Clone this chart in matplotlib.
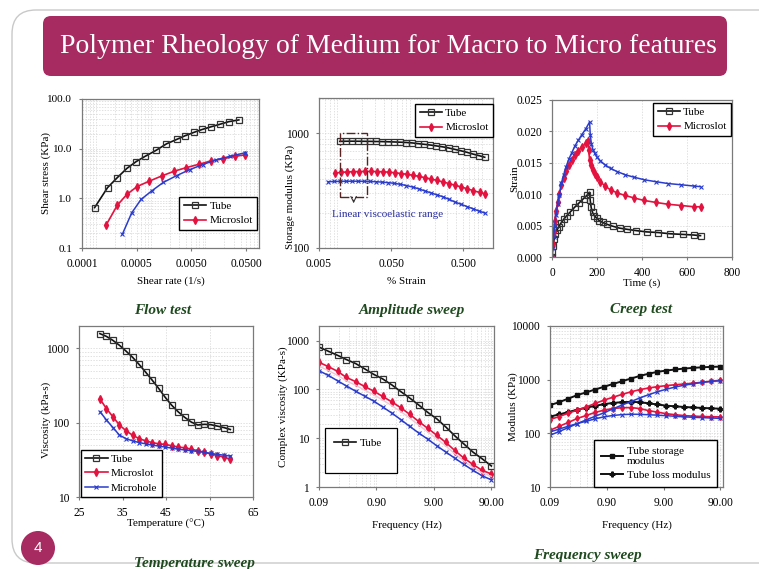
import matplotlib
matplotlib.use("Agg")
import matplotlib.pyplot as plt
from matplotlib.patches import FancyBboxPatch, Circle, Rectangle

plt.rcParams['font.family'] = ['Liberation Serif', 'DejaVu Serif']

W, H = 759, 569

# ---- flow test
flow_rate_tube = [8.5e-5, 1.47e-4, 2.2e-4, 3.3e-4, 4.9e-4, 7.1e-4, 1.12e-3, 1.75e-3,
                  2.67e-3, 3.78e-3, 5.5e-3, 7.9e-3, 1.16e-2, 1.64e-2, 2.42e-2, 3.68e-2]
flow_stress_tube = [0.65, 1.65, 2.6, 4.0, 5.5, 7.0, 9.2, 12.5, 15.3, 18.1, 21.2, 24.4,
                    27.7, 30.9, 35.0, 37.9]
flow_rate_slot = [1.38e-4, 2.2e-4, 3.3e-4, 5.1e-4, 8.5e-4, 1.42e-3, 2.39e-3, 4.05e-3,
                  6.9e-3, 1.16e-2, 1.88e-2, 3.07e-2, 4.86e-2]
flow_stress_slot = [0.29, 0.72, 1.2, 1.73, 2.22, 2.81, 3.5, 4.16, 4.86, 5.7, 6.25, 6.98, 7.55]
flow_rate_hole = [2.74e-4, 4.05e-4, 6.0e-4, 9.4e-4, 1.53e-3, 2.67e-3, 4.67e-3, 8.1e-3,
                  1.42e-2, 2.49e-2, 4.86e-2]
flow_stress_hole = [0.19, 0.51, 0.95, 1.41, 2.09, 2.86, 3.79, 4.79, 5.97, 6.98, 8.3]

# ---- amplitude sweep
amp_strain_tube = [0.0097, 0.0118, 0.0143, 0.0174, 0.021, 0.0255, 0.031, 0.0375, 0.0455,
                   0.055, 0.067, 0.081, 0.098, 0.119, 0.144, 0.175, 0.212, 0.257, 0.312,
                   0.378, 0.458, 0.555, 0.673, 0.816, 0.99]
amp_g_tube = [850, 852, 853, 852, 851, 850, 848, 846, 843, 840, 836, 831, 824, 812, 801,
              790, 776, 762, 745, 725, 705, 684, 660, 640, 618]
amp_strain_slot = [0.0083, 0.01, 0.0121, 0.0147, 0.0178, 0.0216, 0.0262, 0.0318, 0.0385,
                   0.0467, 0.0566, 0.0686, 0.0832, 0.101, 0.122, 0.148, 0.18, 0.218, 0.264,
                   0.32, 0.388, 0.47, 0.57, 0.69, 0.84, 0.99]
amp_g_slot = [450, 456, 460, 463, 464, 465, 465, 464, 462, 458, 453, 446, 439, 430, 421,
              410, 399, 388, 376, 364, 352, 340, 328, 316, 305, 298]
amp_strain_hole = [0.0067, 0.0081, 0.0098, 0.0119, 0.0144, 0.0175, 0.0212, 0.0257, 0.0312,
                   0.0378, 0.0458, 0.0555, 0.0673, 0.0816, 0.099, 0.12, 0.145, 0.176, 0.213,
                   0.259, 0.314, 0.38, 0.461, 0.559, 0.678, 0.822, 0.99]
amp_g_hole = [378, 380, 381, 382, 382, 382, 381, 380, 378, 375, 371, 366, 359, 350, 340,
              328, 315, 303, 291, 280, 266, 252, 241, 230, 220, 210, 202]

# ---- creep test
creep_t_tube = [0, 2, 5, 9, 15, 22, 30, 40, 52, 66, 82, 100, 120, 140, 155, 167,
                170, 174, 180, 188, 198, 210, 225, 245, 270, 300, 335, 375, 420, 470,
                525, 580, 630, 660]
creep_tube = [0, 0.0008, 0.0017, 0.0028, 0.0037, 0.0043, 0.0048, 0.0054, 0.0060, 0.0066,
              0.0072, 0.0079, 0.0086, 0.0093, 0.0098, 0.0103,
              0.0090, 0.0079, 0.0071, 0.0066, 0.0062, 0.0058, 0.0055, 0.0052, 0.0049,
              0.0046, 0.0044, 0.0042, 0.0040, 0.0039, 0.0037, 0.0036, 0.0035, 0.0034]
creep_t_slot = [0, 3, 7, 12, 18, 25, 33, 42, 52, 63, 75, 88, 102, 117, 133, 150, 160,
                163, 167, 172, 180, 190, 200, 215, 235, 260, 290, 325, 365, 410, 460,
                515, 575, 630, 660]
creep_slot = [0, 0.0020, 0.0040, 0.0058, 0.0073, 0.0088, 0.0101, 0.0114, 0.0126, 0.0137,
              0.0146, 0.0154, 0.0162, 0.0169, 0.0175, 0.0181, 0.0184,
              0.0170, 0.0155, 0.0146, 0.0139, 0.0132, 0.0127, 0.0120, 0.0113, 0.0107,
              0.0102, 0.0098, 0.0094, 0.0090, 0.0087, 0.0084, 0.0082, 0.0080, 0.0080]
creep_t_hole = [0, 3, 7, 12, 18, 25, 33, 42, 52, 63, 75, 88, 102, 117, 133, 150, 167,
                170, 175, 182, 190, 200, 215, 235, 260, 290, 325, 365, 410, 460, 515,
                575, 630, 660]
creep_hole = [0, 0.0015, 0.0032, 0.0050, 0.0067, 0.0084, 0.0099, 0.0118, 0.0131, 0.0144,
              0.0156, 0.0166, 0.0177, 0.0186, 0.0195, 0.0204, 0.0215,
              0.0195, 0.0180, 0.0171, 0.0165, 0.0159, 0.0153, 0.0147, 0.0141, 0.0136,
              0.0131, 0.0127, 0.0123, 0.0120, 0.0117, 0.0115, 0.0113, 0.0112]

# ---- temperature sweep
temp = [29.8, 31.3, 32.8, 34.3, 35.8, 37.3, 38.8, 40.3, 41.8, 43.3, 44.8, 46.3, 47.8,
        49.3, 50.8, 52.3, 53.8, 55.3, 56.8, 58.3, 59.8]
visc_tube = [1580, 1450, 1280, 1100, 920, 760, 610, 480, 375, 290, 220, 172, 140, 118,
             102, 93, 95, 94, 90, 86, 81]
visc_slot = [209, 155, 120, 93, 78, 68, 61, 57, 54, 52, 51, 49, 47, 46, 44, 42, 40, 38,
             36, 34.5, 32]
visc_hole = [141, 109, 86, 68, 61, 57, 54, 52, 50, 48.5, 47, 45.5, 44, 43, 42, 41, 40,
             38.5, 37.5, 36.5, 35.5]

# ---- frequency sweeps
freq = [0.09, 0.13, 0.19, 0.27, 0.39, 0.56, 0.8, 1.15, 1.65, 2.4, 3.4, 4.9, 7.0, 10.1,
        14.5, 20.8, 30, 43, 62, 90]
cvisc_tube = [740, 610, 500, 410, 340, 265, 205, 165, 125, 90, 67, 48, 34, 25, 17, 11.2,
              7.6, 5.2, 3.8, 2.7]
cvisc_slot = [360, 295, 235, 176, 145, 115, 93, 72, 56, 42, 31, 22, 16, 11.5, 8.2, 5.6,
              3.9, 2.9, 2.2, 1.85]
cvisc_pale = [300, 245, 195, 150, 122, 97, 78, 61, 47, 35, 26, 18.6, 13.5, 9.7, 6.9, 4.8,
              3.4, 2.5, 1.95, 1.65]
cvisc_hole = [242, 195, 150, 118, 92, 73, 58, 44, 33, 24, 17.5, 12.8, 9.6, 7.0, 5.2, 3.9,
              2.9, 2.2, 1.7, 1.4]

gs_tube = [335, 380, 445, 514, 580, 655, 736, 830, 930, 1050, 1170, 1290, 1400, 1480,
           1550, 1610, 1660, 1700, 1730, 1750]
gl_tube = [205, 225, 250, 275, 300, 325, 350, 368, 380, 386, 380, 362, 345, 328, 318,
           310, 303, 298, 292, 288]
gs_slot = [181, 205, 238, 270, 310, 360, 415, 470, 530, 594, 650, 700, 740, 775, 805,
           830, 860, 895, 935, 975]
gl_slot = [114, 135, 160, 189, 215, 245, 270, 290, 300, 302, 290, 265, 248, 232, 222,
           214, 209, 206, 204, 203]
gs_hole = [92, 108, 128, 152, 178, 208, 241, 285, 335, 390, 455, 525, 595, 665, 730,
           790, 840, 890, 930, 955]
gl_hole = [106, 120, 136, 152, 168, 186, 203, 215, 223, 227, 226, 222, 218, 213, 208,
           203, 199, 196, 193, 190]

BLACK = '#111111'
RED = '#e3123e'
BLUE = '#2a3ccc'
MAGENTA = '#a72a60'
GREEN = '#1f4a1f'

fig = plt.figure(figsize=(W / 100, H / 100), dpi=100)

# slide background in pixel units
bg = fig.add_axes([0, 0, 1, 1])
bg.set_xlim(0, W)
bg.set_ylim(H, 0)
bg.axis('off')
bg.add_patch(FancyBboxPatch((12, 10), 800, 553, boxstyle='round,pad=0,rounding_size=24',
                            fc='white', ec='#c9c9c9', lw=1.0))
bg.add_patch(FancyBboxPatch((43, 16), 684, 60, boxstyle='round,pad=0,rounding_size=8',
                            fc=MAGENTA, ec='none'))
bg.text(388, 46, 'Polymer Rheology of Medium for Macro to Micro features', color='white',
        fontsize=20, ha='center', va='center')
bg.add_patch(Circle((38, 548), 17, fc=MAGENTA, ec='none'))
bg.text(38, 548, '4', color='white', fontsize=11, ha='center', va='center',
        family='Liberation Sans')

for txt, x, y in [('Flow test', 163, 310), ('Amplitude sweep', 412, 310),
                  ('Creep test', 641, 309), ('Temperature sweep', 194, 563),
                  ('Frequency sweep', 587, 556)]:
    bg.text(x, y, txt, color=GREEN, fontsize=11, fontweight='bold', style='italic',
            ha='center', va='center')


def panel(l, r, t, b):
    return fig.add_axes([l / W, 1 - b / H, (r - l) / W, (b - t) / H])


def style(ax, xlab, ylab, xl, yl, logx=True, logy=True, ylab_y=0.5):
    if logx:
        ax.set_xscale('log')
    if logy:
        ax.set_yscale('log')
    for s in ax.spines.values():
        s.set_color('#7a7a7a')
        s.set_linewidth(0.9)
    ax.tick_params(which='major', labelsize=8.3, length=2.5, pad=4.5, color='#7a7a7a')
    ax.tick_params(which='minor', length=0)
    ax.grid(True, which='both', color='#d4d4d4', ls=(0, (2, 2)), lw=0.5)
    ax.set_axisbelow(True)
    ax.set_xlabel(xlab, fontsize=8)
    ax.set_ylabel(ylab, fontsize=8)
    ax.xaxis.label.set_va('center')
    ax.yaxis.label.set_va('center')
    ax.xaxis.set_label_coords(0.5, xl)
    ax.yaxis.set_label_coords(yl, ylab_y)


def ticks(ax, xt=None, xlbl=None, yt=None, ylbl=None):
    if xt is not None:
        ax.set_xticks(xt)
        ax.set_xticklabels(xlbl)
        ax.xaxis.set_minor_formatter(plt.NullFormatter())
    if yt is not None:
        ax.set_yticks(yt)
        ax.set_yticklabels(ylbl)
        ax.yaxis.set_minor_formatter(plt.NullFormatter())


tube_kw = dict(color=BLACK, marker='s', mfc='none', mec='#333333', ms=5, mew=0.9, lw=1.2)
slot_kw = dict(color=RED, marker='d', ms=3.8, lw=1.2)
hole_kw = dict(color=BLUE, marker='x', ms=3, mew=0.8, lw=1.1)
leg_kw = dict(fontsize=8, fancybox=False, edgecolor='black', framealpha=1,
              handlelength=2.0, borderaxespad=0, handletextpad=0.3, labelspacing=0.4)

# flow test
ax1 = panel(82, 259, 99, 248)
style(ax1, 'Shear rate (1/s)', 'Shear stress (KPa)', -0.226, -0.205)
ax1.plot(flow_rate_tube, flow_stress_tube, label='Tube', **tube_kw)
ax1.plot(flow_rate_slot, flow_stress_slot, label='Microslot', **slot_kw)
ax1.plot(flow_rate_hole, flow_stress_hole, **hole_kw)
ax1.set_xlim(5e-5, 0.086)
ax1.set_ylim(0.1, 100)
ticks(ax1, [5e-5, 5e-4, 5e-3, 5e-2], ['0.0001', '0.0005', '0.0050', '0.0500'],
      [0.1, 1, 10, 100], ['0.1', '1.0', '10.0', '100.0'])
ax1.tick_params(axis='y', labelsize=8)
ax1.legend(loc='upper right', bbox_to_anchor=(0.989, 0.342), **leg_kw)

# amplitude sweep
ax2 = panel(319, 493, 98, 248)
style(ax2, '% Strain', 'Storage modulus (KPa)', -0.225, -0.167, ylab_y=0.34)
ax2.plot(amp_strain_tube, amp_g_tube, label='Tube', **tube_kw)
ax2.plot(amp_strain_slot, amp_g_slot, label='Microslot', **slot_kw)
ax2.plot(amp_strain_hole, amp_g_hole, **hole_kw)
ax2.set_xlim(0.005, 1.29)
ax2.set_ylim(100, 2030)
ticks(ax2, [0.005, 0.05, 0.5], ['0.005', '0.050', '0.500'], [100, 1000], ['100', '1000'])
ax2.add_patch(Rectangle((0.0098, 279), 0.0232 - 0.0098, 1000 - 279, fill=False,
                        ls='-.', ec='#5a2323', lw=1.0, zorder=5))
ax2.annotate('', xy=(0.0151, 232), xytext=(0.0151, 276),
             arrowprops=dict(arrowstyle='->', color='#333333', lw=0.8))
ax2.text(0.0076, 195, 'Linear viscoelastic range', color='#2b2f9e', fontsize=8,
         ha='left', va='center')
ax2.legend(loc='upper right', bbox_to_anchor=(1.0, 0.96), **leg_kw)

# creep test
ax3 = panel(552, 732, 100, 257)
style(ax3, 'Time (s)', 'Strain', -0.17, -0.206, logx=False, logy=False)
ax3.grid(False, which='minor')
ax3.plot(creep_t_tube, creep_tube, label='Tube', **tube_kw)
ax3.plot(creep_t_slot, creep_slot, label='Microslot', **slot_kw)
ax3.plot(creep_t_hole, creep_hole, **hole_kw)
ax3.set_xlim(0, 800)
ax3.set_ylim(0, 0.025)
ax3.set_xticks([0, 200, 400, 600, 800])
ax3.set_yticks([0, 0.005, 0.01, 0.015, 0.02, 0.025])
ax3.set_yticklabels(['0.000', '0.005', '0.010', '0.015', '0.020', '0.025'])
ax3.legend(loc='upper right', bbox_to_anchor=(0.994, 0.981), **leg_kw)

# temperature sweep
ax4 = panel(79, 253, 326, 497)
style(ax4, 'Temperature (°C)', 'Viscosity (kPa-s)', -0.16, -0.186, logx=False,
      ylab_y=0.45)
ax4.plot(temp, visc_tube, label='Tube', **tube_kw)
ax4.plot(temp, visc_slot, label='Microslot', **slot_kw)
ax4.plot(temp, visc_hole, label='Microhole', **hole_kw)
ax4.set_xlim(25, 65)
ax4.set_ylim(10, 2000)
ax4.set_xticks([25, 35, 45, 55, 65])
ticks(ax4, yt=[10, 100, 1000], ylbl=['10', '100', '1000'])
ax4.legend(loc='lower left', bbox_to_anchor=(0.011, 0.0), **leg_kw)

# complex viscosity
ax5 = panel(319, 494, 326, 487)
style(ax5, 'Frequency (Hz)', 'Complex viscosity (KPa-s)', -0.236, -0.206)
ax5.plot(freq, cvisc_tube, label='Tube', **tube_kw)
ax5.plot(freq, cvisc_slot, **slot_kw)
ax5.plot(freq, cvisc_pale, color='#f2c4d4', lw=1.0)
ax5.plot(freq, cvisc_hole, **hole_kw)
ax5.set_xlim(0.09, 100)
ax5.set_ylim(1, 2000)
ticks(ax5, [0.09, 0.9, 9, 90], ['0.09', '0.90', '9.00', '90.00'],
      [1, 10, 100, 1000], ['1', '10', '100', '1000'])
ax5.add_patch(Rectangle((0.034, 0.087), 0.411, 0.28, transform=ax5.transAxes,
                        fc='white', ec='black', lw=0.9, zorder=6))
ax5.legend(loc='center', bbox_to_anchor=(0.223, 0.273), frameon=False,
           fontsize=8, handlelength=2.0, handletextpad=0.3).set_zorder(7)

# frequency sweep
ax6 = panel(550, 723, 326, 487)
style(ax6, 'Frequency (Hz)', 'Modulus (KPa)', -0.236, -0.214)
ax6.plot(freq, gs_tube, color=BLACK, marker='s', ms=3, lw=1.4, label='Tube storage\nmodulus')
ax6.plot(freq, gl_tube, color=BLACK, marker='P', ms=3.5, lw=1.4, label='Tube loss modulus')
ax6.plot(freq, gs_slot, color=RED, marker='d', ms=3, lw=1.2)
ax6.plot(freq, gl_slot, color=RED, marker='d', ms=3, lw=1.2)
ax6.plot(freq, gs_hole, color=BLUE, marker='x', ms=3, mew=0.8, lw=1.1)
ax6.plot(freq, gl_hole, color=BLUE, marker='x', ms=3, mew=0.8, lw=1.1)
ax6.set_xlim(0.09, 100)
ax6.set_ylim(10, 10000)
ticks(ax6, [0.09, 0.9, 9, 90], ['0.09', '0.90', '9.00', '90.00'],
      [10, 100, 1000, 10000], ['10', '100', '1000', '10000'])
leg6 = dict(leg_kw)
leg6.update(borderpad=0.6)
ax6.legend(loc='lower right', bbox_to_anchor=(0.965, 0.0), **leg6)

fig.savefig('out.png', dpi=100)
